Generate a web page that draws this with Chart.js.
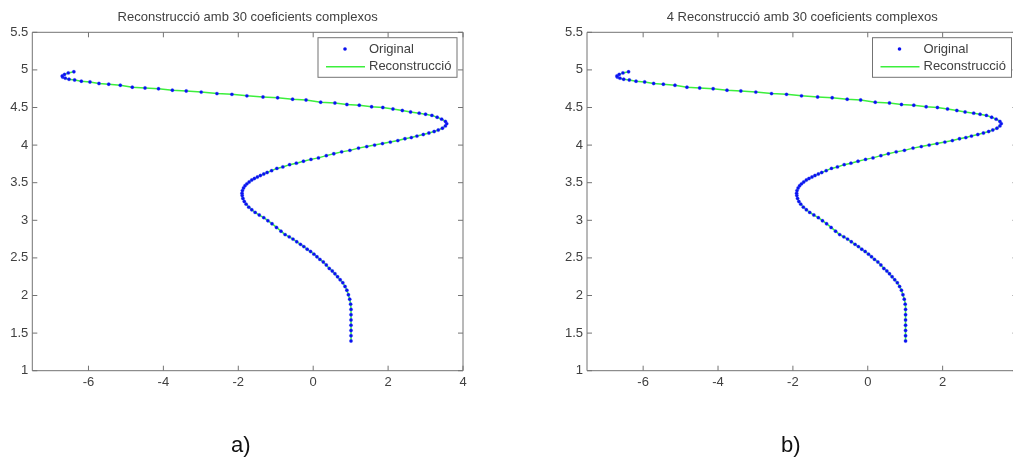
<!DOCTYPE html>
<html>
<head>
<meta charset="utf-8">
<script src="https://cdn.jsdelivr.net/npm/chart.js@4.4.1/dist/chart.umd.min.js"></script>
<style>
  html, body { margin: 0; padding: 0; background: #fff; overflow: hidden; }
  #wrap { position: relative; width: 1013px; height: 458px; overflow: hidden; }
  #wrap canvas { position: absolute; top: 0; }
  .cap { position: absolute; font-family: "Liberation Sans", Arial, sans-serif;
         font-size: 22px; line-height: 22px; color: #111; }
</style>
</head>
<body>
<div id="wrap">
  <canvas id="panelA" width="500" height="458" style="left:0"></canvas>
  <canvas id="panelB" width="530" height="458" style="left:500px"></canvas>
  <div class="cap" style="left:231px;top:434px">a)</div>
  <div class="cap" style="left:781px;top:434px">b)</div>
</div>
<script>
// Panel titles and legend entries
const panelTitles = [
  'Reconstrucció amb 30 coeficients complexos',
  '4 Reconstrucció amb 30 coeficients complexos'
];
const legendLabels = ['Original', 'Reconstrucció'];

// Sampled contour (x, y), traced from the lower end up to the upper-left hook
const pathX = [
  1.01, 1.01, 1.01, 1.01, 1.01, 1.01, 1.01, 1.00, 0.975, 0.94,
  0.90, 0.85, 0.79, 0.72, 0.65, 0.58, 0.51, 0.43, 0.35, 0.27,
  0.18, 0.10, 0.02, -0.07, -0.16, -0.25, -0.34, -0.44, -0.54, -0.64,
  -0.75, -0.86, -0.98, -1.10, -1.21, -1.32, -1.44, -1.55, -1.64, -1.72,
  -1.79, -1.84, -1.875, -1.895, -1.90, -1.89, -1.86, -1.82, -1.77, -1.71,
  -1.64, -1.57, -1.49, -1.41, -1.32, -1.23, -1.11, -0.97, -0.81, -0.63,
  -0.45, -0.26, -0.06, 0.14, 0.35, 0.55, 0.76, 0.98, 1.21, 1.43,
  1.64, 1.85, 2.06, 2.26, 2.45, 2.62, 2.77, 2.94, 3.09, 3.23,
  3.34, 3.45, 3.53, 3.565, 3.53, 3.43, 3.31, 3.17, 3.00, 2.83,
  2.60, 2.38, 2.13, 1.86, 1.56, 1.23, 0.90, 0.58, 0.20, -0.19,
  -0.55, -0.95, -1.34, -1.77, -2.17, -2.57, -2.99, -3.39, -3.76, -4.13,
  -4.49, -4.83, -5.15, -5.46, -5.72, -5.96, -6.19, -6.37, -6.52, -6.62,
  -6.69, -6.70, -6.64, -6.54, -6.39
];
const pathY = [
  1.395, 1.465, 1.535, 1.605, 1.675, 1.745, 1.815, 1.885, 1.95, 2.01,
  2.07, 2.12, 2.17, 2.21, 2.25, 2.29, 2.325, 2.36, 2.405, 2.445,
  2.48, 2.515, 2.55, 2.585, 2.615, 2.65, 2.68, 2.715, 2.75, 2.78,
  2.81, 2.855, 2.905, 2.955, 2.995, 3.035, 3.07, 3.105, 3.14, 3.175,
  3.215, 3.25, 3.29, 3.33, 3.36, 3.395, 3.43, 3.46, 3.485, 3.51,
  3.535, 3.555, 3.575, 3.595, 3.615, 3.635, 3.66, 3.69, 3.71, 3.74,
  3.76, 3.785, 3.81, 3.83, 3.86, 3.885, 3.91, 3.93, 3.96, 3.98,
  4.00, 4.02, 4.04, 4.06, 4.085, 4.10, 4.12, 4.14, 4.16, 4.18,
  4.20, 4.225, 4.255, 4.285, 4.315, 4.345, 4.37, 4.395, 4.41, 4.425,
  4.44, 4.46, 4.48, 4.50, 4.51, 4.53, 4.54, 4.56, 4.57, 4.60,
  4.61, 4.63, 4.64, 4.655, 4.675, 4.685, 4.705, 4.72, 4.73, 4.75,
  4.76, 4.77, 4.795, 4.81, 4.82, 4.84, 4.85, 4.866, 4.875, 4.89,
  4.905, 4.92, 4.94, 4.96, 4.975
];

// Axis ticks
const xTicks = [-6, -4, -2, 0, 2, 4];
const yTicks = [1, 1.5, 2, 2.5, 3, 3.5, 4, 4.5, 5, 5.5];

const FONT = '"Liberation Sans", Arial, sans-serif';
const AXIS_COLOR = '#737373';
const TEXT_COLOR = '#404040';
const DOT_COLOR = '#0a10f0';
const LINE_COLOR = '#3cef3c';
const TICK_LEN = 5;

Chart.defaults.font.family = FONT;
Chart.defaults.font.size = 13;
Chart.defaults.color = TEXT_COLOR;

const points = pathX.map((x, i) => ({ x, y: pathY[i] }));

// Box around the plotting area with inward tick marks on all four sides
const framePlugin = {
  id: 'frame',
  afterDatasetsDraw(chart) {
    const { ctx, chartArea: a, scales: { x, y } } = chart;
    ctx.save();
    ctx.strokeStyle = AXIS_COLOR;
    ctx.lineWidth = 1;
    ctx.beginPath();
    ctx.rect(a.left, a.top, a.right - a.left, a.bottom - a.top);
    x.ticks.forEach(t => {
      const px = x.getPixelForValue(t.value);
      ctx.moveTo(px, a.bottom); ctx.lineTo(px, a.bottom - TICK_LEN);
      ctx.moveTo(px, a.top); ctx.lineTo(px, a.top + TICK_LEN);
    });
    y.ticks.forEach(t => {
      const py = y.getPixelForValue(t.value);
      ctx.moveTo(a.left, py); ctx.lineTo(a.left + TICK_LEN, py);
      ctx.moveTo(a.right, py); ctx.lineTo(a.right - TICK_LEN, py);
    });
    ctx.stroke();
    ctx.restore();
  }
};

// Boxed legend in the upper-right corner of the plotting area
const boxLegendPlugin = {
  id: 'boxLegend',
  afterDraw(chart) {
    const { ctx, chartArea: a } = chart;
    const w = 139, h = 39.6;
    const left = a.right - 6 - w, top = a.top + 5.4;
    ctx.save();
    ctx.fillStyle = '#fff';
    ctx.strokeStyle = AXIS_COLOR;
    ctx.lineWidth = 1;
    ctx.fillRect(left, top, w, h);
    ctx.strokeRect(left, top, w, h);
    const ds = chart.data.datasets;
    ctx.font = '13px ' + FONT;
    ctx.textBaseline = 'middle';
    ctx.textAlign = 'left';
    const y1 = top + 11.3, y2 = top + 29;
    // Original: dot marker
    ctx.fillStyle = DOT_COLOR;
    ctx.beginPath();
    ctx.arc(left + 27, y1, 1.8, 0, Math.PI * 2);
    ctx.fill();
    // Reconstrucció: line sample
    ctx.strokeStyle = LINE_COLOR;
    ctx.lineWidth = 1.4;
    ctx.beginPath();
    ctx.moveTo(left + 8, y2);
    ctx.lineTo(left + 47, y2);
    ctx.stroke();
    ctx.fillStyle = TEXT_COLOR;
    ctx.fillText(ds[0].label, left + 51, y1);
    ctx.fillText(ds[1].label, left + 51, y2);
    ctx.restore();
  }
};

function makePanel(canvasId, title, padLeft, padRight) {
  return new Chart(document.getElementById(canvasId), {
    type: 'scatter',
    data: {
      datasets: [
        {
          label: legendLabels[0],
          data: points,
          showLine: false,
          pointRadius: 1.7,
          pointHoverRadius: 1.7,
          pointBackgroundColor: DOT_COLOR,
          pointBorderColor: 'rgba(70,90,255,0.35)',
          pointBorderWidth: 0.8,
          order: 0
        },
        {
          label: legendLabels[1],
          data: points,
          showLine: true,
          pointRadius: 0,
          borderColor: LINE_COLOR,
          borderWidth: 1.5,
          tension: 0,
          order: 1
        }
      ]
    },
    options: {
      responsive: false,
      animation: false,
      devicePixelRatio: 1,
      layout: { padding: { left: padLeft, right: padRight, top: 0, bottom: 57.3 } },
      plugins: {
        legend: { display: false },
        tooltip: { enabled: false },
        title: {
          display: true,
          text: title,
          fullSize: false,
          color: TEXT_COLOR,
          font: { size: 13, weight: 'normal', lineHeight: 1.2 },
          padding: { top: 9.7, bottom: 7.0 }
        }
      },
      scales: {
        x: {
          type: 'linear',
          min: -7.5,
          max: 4,
          grid: { display: false, drawTicks: false },
          border: { display: false },
          afterBuildTicks: s => { s.ticks = xTicks.map(v => ({ value: v })); },
          afterFit: s => { s.height = 30; },
          ticks: { padding: 4, autoSkip: false, maxRotation: 0, color: TEXT_COLOR,
                   callback: v => String(v) }
        },
        y: {
          type: 'linear',
          min: 1,
          max: 5.5,
          grid: { display: false, drawTicks: false },
          border: { display: false },
          afterBuildTicks: s => { s.ticks = yTicks.map(v => ({ value: v })); },
          afterFit: s => { s.width = 32; },
          ticks: { padding: 4, autoSkip: false, color: TEXT_COLOR,
                   callback: v => String(v) }
        }
      }
    },
    plugins: [framePlugin, boxLegendPlugin]
  });
}

makePanel('panelA', panelTitles[0], 0.3, 37);
makePanel('panelB', panelTitles[1], 55, 12.5);
</script>
</body>
</html>
